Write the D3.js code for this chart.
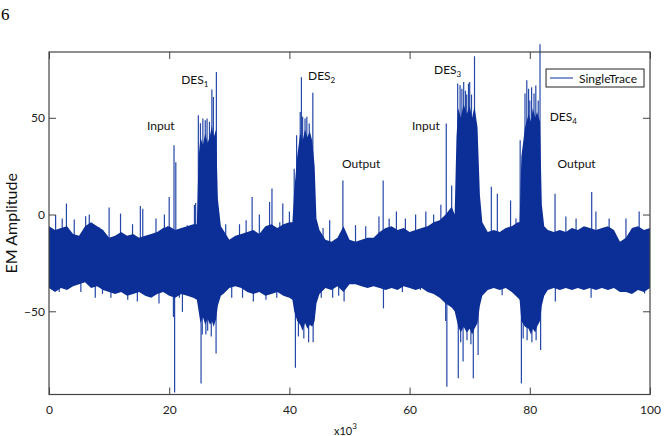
<!DOCTYPE html>
<html>
<head>
<meta charset="utf-8">
<script src="https://cdn.jsdelivr.net/npm/d3@7/dist/d3.min.js"></script>
<style>
  body { margin: 0; background: #fff; }
  text { font-family: Lato, "Open Sans", sans-serif; }
</style>
</head>
<body>
<div id="chart"></div>
<script>
// envelope of the trace (x in thousands of samples), one line per stretch
var envK = [0, 1, 2, 3, 4, 5, 6, 7, 8, 9, 10, 11, 12, 13, 14, 15, 16, 17, 18, 19, 20, 21, 22, 23, 24,
    24.6, 24.9, 25.2, 25.6, 26, 26.4, 26.8, 27.1, 27.4, 27.8, 28.1, 28.6,
    29, 30, 31, 32, 33, 34, 35, 36, 37, 38, 39, 40,
    40.5, 40.8, 41.3, 41.8, 42.2, 42.6, 43, 43.4, 43.8, 44.2, 44.5,
    45, 46, 47, 48, 49, 50, 51, 52, 53, 54, 55, 56, 57, 58, 59, 60, 61, 62, 63, 64, 65, 66, 67,
    67.5, 67.8, 68.1, 68.5, 69, 69.5, 70, 70.4, 70.8, 71.3, 71.7, 72.1,
    73, 74, 75, 76, 77, 78,
    78.3, 78.6, 79.2, 79.8, 80.2, 80.5, 80.9, 81.2, 81.7, 82, 82.4,
    83, 84, 85, 86, 87, 88, 89, 90, 91, 92, 93, 94, 95, 96, 97, 98, 99, 100];
var envHi = [-6, -8, -7, -6, -10, -11, -6, -4, -6, -8, -12, -11, -9, -11, -10, -12, -11, -10, -9, -7, -6, -8, -7, -6, -5,
    -5, 30, 40, 36, 42, 37, 41, 46, 40, 44, 8, -6,
    -8, -13, -11, -10, -9, -8, -10, -6, -5, -7, -5, -4,
    -4, 12, 30, 42, 38, 44, 40, 43, 38, 25, -2,
    -8, -13, -14, -12, -6, -13, -14, -13, -12, -12, -9, -7, -6, -8, -7, -9, -8, -7, -6, -4, -3, 0, 4,
    0, 40, 55, 50, 57, 52, 56, 50, 56, 45, 10, -4,
    -9, -8, -9, -7, -6, -4,
    -4, 30, 45, 52, 48, 55, 50, 53, 48, 5, -6,
    -8, -9, -8, -9, -7, -8, -6, -7, -8, -7, -6, -8, -14, -12, -7, -6, -8, -7];
var envLo = [-38, -40, -38, -39, -37, -36, -35, -38, -37, -39, -40, -41, -40, -42, -41, -40, -42, -43, -41, -40, -42, -43, -41, -42, -43,
    -44, -50, -56, -53, -57, -54, -57, -55, -58, -54, -47, -42,
    -41, -38, -37, -38, -40, -41, -40, -42, -41, -40, -42, -43,
    -44, -50, -55, -57, -60, -56, -59, -57, -58, -55, -46,
    -41, -38, -39, -37, -40, -36, -36, -37, -38, -37, -38, -39, -38, -39, -37, -38, -39, -38, -40, -41, -43, -46, -48,
    -50, -54, -58, -61, -58, -61, -59, -62, -59, -56, -47, -42,
    -39, -38, -39, -38, -40, -43,
    -44, -55, -58, -59, -62, -59, -61, -58, -55, -47, -42,
    -39, -38, -39, -38, -39, -38, -39, -38, -39, -38, -39, -38, -40, -40, -41, -39, -40, -38];

// single tall excursions
var spikeK = [1.1, 1.7, 2.2, 2.9, 4.2, 5.3, 6.1, 6.7, 7.7, 8.3, 8.9, 10, 10.3, 11.9, 13.1, 13.9, 14.7, 15.2, 15.6,
    16.7, 17.8, 18.3, 19.2, 19.7, 20, 20.7, 20.8, 20.9, 21.1, 21.7, 22.2, 23, 23.6, 24.2, 24.4,
    24.85, 25.2, 25.3, 25.5, 25.6, 26, 26.1, 26.3, 26.4, 26.7, 27, 27.1, 27.35, 27.8, 27.85,
    29.4, 30.4, 31.7, 32.2, 32.8, 33.8, 34, 35, 36.1, 36.7, 37.1, 37.9, 38.4, 38.9, 39.6, 40,
    40.8, 41, 41.2, 41.5, 41.8, 42, 42.2, 42.4, 42.6, 42.9, 43.2, 43.3, 43.9, 43.95, 45.3, 45.6, 46.7,
    47.2, 48.2, 48.9, 49.1, 51, 52.7, 54.9, 55.6, 55.65, 56.6, 57.8, 58.8, 59.3, 61, 61.8, 62.7, 64,
    65.2, 65.7, 66, 66.1, 66.2, 67, 68, 68.1, 68.4, 68.5, 68.7, 68.9, 69, 69.3, 69.5, 69.55, 69.8, 70,
    70.2, 70.3, 70.6, 70.8, 71.4, 72.1, 73.6, 74.6, 75.4, 76.8, 77.7, 78.4, 78.6, 78.9, 79.2, 79.5,
    79.55, 79.8, 80, 80.3, 80.35, 80.7, 81, 81.05, 81.4, 81.7, 81.8, 84.2, 84.25, 86, 87.7, 90.2,
    90.3, 91, 93.2, 96, 98.2, 99.1];
var spikeV = [-0.3, -40, -2, 5.7, -2.6, -40, -0.9, 0, -43, -6.4, -41, 3.6, -43, 0.5, -44, -5, -45, 4.4, 3,
    -42.5, -2, -46, 0, -6, 9.1, -52.9, 35.8, -92, 27, -43, -50.3, -5.5, -42, 5, 6,
    51.3, 47.2, -87.3, -62, 49.6, 48.7, -62, 49.6, -60, 47.9, -63, 64.6, 60.8, -71.8, 73.7,
    -5, -43, -5, -43, -3, 9.1, -45, 0, -44, 6.5, 13.4, -43, -4, 5.7, -42.5, 1.6,
    23.7, -79.2, 41, -63, 53, 71, 50.5, -64, 49.6, 50.5, -66, 47, 63, -66, -43, -7, -3,
    -43, -42, 17.6, -45, -5.5, -6, -1, 17.6, -48.5, -2, 1.6, -40, -2, 0, -39, 1.6, 0,
    5, -43, -55, 47, -89, 15, 67.7, -84.6, 66.8, -66, 65, -76, 68.5, 64, 62, -65, 67.7, 68.5,
    -67, 62, -84.6, 81.8, -72.6, -5, 14.3, 10.8, -41.7, 7.3, -2, 38.4, -87.3, -64, 62.5, 69.4,
    -65, 65, 59, 65.8, -66, 62.5, 66.7, -65, 59, 88, -70, 10.8, -45, -1, -2, -43,
    11.7, 1.6, -2, -2, 1.6, -40.8];
var traceCenter = -24;

var xTicks = [0, 20, 40, 60, 80, 100];
var yTicks = [-50, 0, 50];

var noteText = ['Input', 'DES', 'DES', 'Output', 'Input', 'DES', 'DES', 'Output'];
var noteSub = ['', '1', '2', '', '', '3', '4', ''];
var noteK = [16.3, 22.0, 43.1, 48.75, 60.4, 64.06, 83.3, 84.6];
var noteV = [43.7, 67.4, 69.5, 24.0, 43.7, 72.6, 48.3, 24.0];

var W = 666, H = 436;
var margin = { top: 52, right: 16, bottom: 41.5, left: 49 };
var width = W - margin.left - margin.right;
var height = H - margin.top - margin.bottom;

var svg = d3.select("#chart").append("svg").attr("width", W).attr("height", H);

// page number
svg.append("text").attr("x", 1).attr("y", 20)
    .style("font-family", "'Liberation Serif', 'DejaVu Serif', serif")
    .style("font-size", "17px").text("6");

var g = svg.append("g").attr("transform", "translate(" + margin.left + "," + margin.top + ")");

var x = d3.scaleLinear().domain([0, 100]).range([0, width]);
var y = d3.scaleLinear().domain([-93, 84]).range([height, 0]);

var blue = "#0b2e97";

// spikes first, the dense band is drawn over them
var spikes = spikeK.map(function(k, i) { return { k: k, v: spikeV[i] }; });
g.selectAll(".spike").data(spikes).enter().append("line")
    .attr("class", "spike")
    .attr("x1", function(d) { return x(d.k); })
    .attr("x2", function(d) { return x(d.k); })
    .attr("y1", y(traceCenter))
    .attr("y2", function(d) { return y(d.v); })
    .attr("stroke", "#2447a8")
    .attr("stroke-width", 1.2);

// envelope band
var band = envK.map(function(k, i) { return { k: k, hi: envHi[i], lo: envLo[i] }; });
g.append("path").datum(band)
    .attr("fill", blue)
    .attr("d", d3.area()
        .x(function(d) { return x(d.k); })
        .y0(function(d) { return y(d.lo); })
        .y1(function(d) { return y(d.hi); }));

// axes, ticks pointing inwards
var axisColor = "#444";
var xb = g.append("g").attr("transform", "translate(0," + height + ")")
    .call(d3.axisBottom(x).tickValues(xTicks).tickSizeInner(-7).tickSizeOuter(0).tickPadding(11));
var xt = g.append("g")
    .call(d3.axisTop(x).tickValues(xTicks).tickSizeInner(-7).tickSizeOuter(0).tickFormat(""));
var yl = g.append("g")
    .call(d3.axisLeft(y).tickValues(yTicks).tickSizeInner(-7).tickSizeOuter(0).tickPadding(4));
var yr = g.append("g").attr("transform", "translate(" + width + ",0)")
    .call(d3.axisRight(y).tickValues(yTicks).tickSizeInner(-7).tickSizeOuter(0).tickFormat(""));
[xb, xt, yl, yr].forEach(function(a) {
    a.select(".domain").remove();
    a.selectAll("line").attr("stroke", axisColor);
    a.selectAll("text").style("font-family", "Lato, sans-serif").style("font-size", "12px").attr("fill", "#222");
});
g.append("rect").attr("width", width).attr("height", height)
    .attr("fill", "none").attr("stroke", axisColor).attr("stroke-width", 1.2);

// annotations
noteText.forEach(function(t, i) {
    var tx = g.append("text").attr("x", x(noteK[i])).attr("y", y(noteV[i]))
        .style("font-size", "12px").attr("fill", "#111").text(t);
    if (noteSub[i]) {
        tx.append("tspan").attr("dy", 3).style("font-size", "8px").text(noteSub[i]);
    }
});

// axis titles
g.append("text").attr("transform", "rotate(-90)")
    .attr("x", -height / 2).attr("y", -32)
    .attr("text-anchor", "middle").style("font-size", "16px").attr("fill", "#111")
    .text("EM Amplitude");
var xl = svg.append("text").attr("x", 334).attr("y", 435).style("font-size", "11px").attr("fill", "#111").text("x10");
xl.append("tspan").attr("dy", -6).style("font-size", "8px").text("3");

// legend
var leg = g.append("g").attr("transform", "translate(" + (x(82.7)) + "," + 17 + ")");
leg.append("rect").attr("width", 98).attr("height", 18).attr("fill", "#fff").attr("stroke", "#222");
leg.append("line").attr("x1", 4).attr("x2", 27).attr("y1", 9).attr("y2", 9).attr("stroke", "#2c4fae").attr("stroke-width", 1.2);
leg.append("text").attr("x", 33).attr("y", 13.5).style("font-size", "12px").attr("fill", "#111").text("SingleTrace");
</script>
</body>
</html>
